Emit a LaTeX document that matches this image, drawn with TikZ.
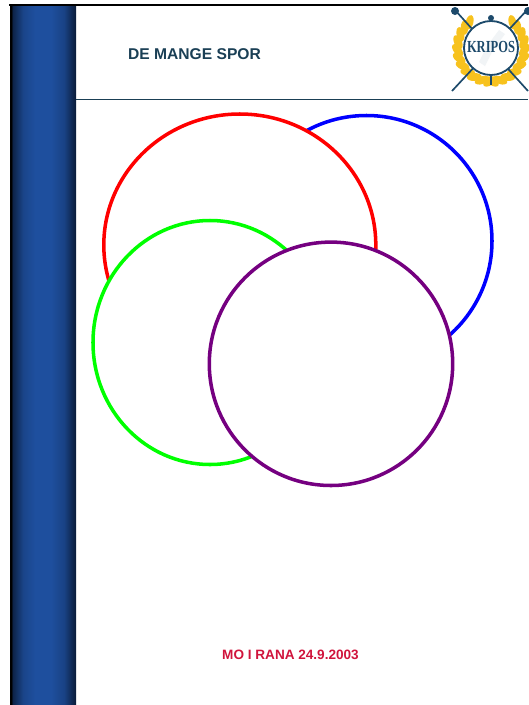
\documentclass[tikz,border=0pt]{standalone}
\usepackage{fontspec}
\setmainfont{Liberation Sans}
\newfontfamily\logofont{Liberation Serif}
\usetikzlibrary{shapes.geometric}
\definecolor{BarNavy}{HTML}{0A1B38}
\definecolor{BarBlue}{HTML}{1E4F9E}
\definecolor{HeadTeal}{HTML}{1A3F55}
\definecolor{DateRed}{HTML}{D0143C}
\definecolor{LogoBlue}{HTML}{1D4A6B}
\definecolor{Laurel}{HTML}{F7C21E}
\definecolor{RingPurple}{HTML}{750080}
\pgfdeclarehorizontalshading{barshade}{100bp}{
  color(0bp)=(black); color(25bp)=(black); color(26bp)=(black);
  color(27bp)=(BarNavy!85!BarBlue); color(35bp)=(BarBlue!80!BarNavy);
  color(44bp)=(BarBlue); color(56bp)=(BarBlue);
  color(66bp)=(BarBlue!75!BarNavy); color(75bp)=(BarNavy); color(100bp)=(BarNavy)}
\tikzset{
  ring/.style={line width=2.5pt,fill=white},
  leaf/.style={fill=Laurel,ellipse,rotate=#1,minimum width=10.5pt,minimum height=5.5pt,inner sep=0pt},
  sword/.style={draw=LogoBlue,line width=1.2pt},
}
\begin{document}
\begin{tikzpicture}[x=0.025cm,y=-0.025cm]
    \useasboundingbox (0,0) rectangle (528,705);
    % side bar and header rules
    \shade[shading=barshade] (10,5) rectangle (76,705);
    \fill[black] (9,3.5) rectangle (528,6);
    \draw[HeadTeal,line width=0.8pt] (76,99.5) -- (528,99.5);
    \node[text=HeadTeal,font=\bfseries\fontsize{11.1}{14}\selectfont] (title) at (194.5,54) {DE MANGE SPOR};
    \node[text=DateRed,font=\bfseries\fontsize{9.65}{13}\selectfont] (date) at (290.5,654.5) {MO I RANA 24.9.2003};
    % circles, back to front
    \draw[ring,draw=blue] (366.5,241) circle (125.5);
    \draw[ring,draw=red] (239.8,245) ellipse (136 and 131);
    \draw[ring,draw=green] (210,342.5) ellipse (117 and 122);
    \draw[ring,draw=RingPurple] (331,363.8) circle (121.7);
    % logo
    \begin{scope}[shift={(491,48)}]
      \foreach \ang in {92,106,120,134,148,162,176,190,204,218,230} {
        \node[leaf=-\ang+125] at (\ang:33.5) {};
        \node[leaf=-(180-\ang)+55] at (180-\ang:33.5) {};
      }
      \draw[sword] (-39,43) -- (37,-39);
      \draw[sword] (-36,-38) -- (37,43);
      \draw[sword] (0,-30) -- (0,37);
      \fill[LogoBlue] (-36,-37) circle (4);
      \fill[LogoBlue] (37,-37) circle (4);
      \fill[LogoBlue] (0,-30) circle (3);
      \draw[draw=LogoBlue,line width=1.3pt,fill=white] (0,0) circle (27);
      \fill[LogoBlue!6] (8,-18) -- (14,-14) -- (2,2) -- (-6,18) -- (-12,14) -- (-4,-2) -- cycle;
      \node[text=LogoBlue,font=\logofont\bfseries\fontsize{8.9}{10}\selectfont,inner sep=0.5pt] (kripos) at (0,-1) {\scalebox{1}[1.35]{KRIPOS}};
    \end{scope}
  \end{tikzpicture}
\end{document}
